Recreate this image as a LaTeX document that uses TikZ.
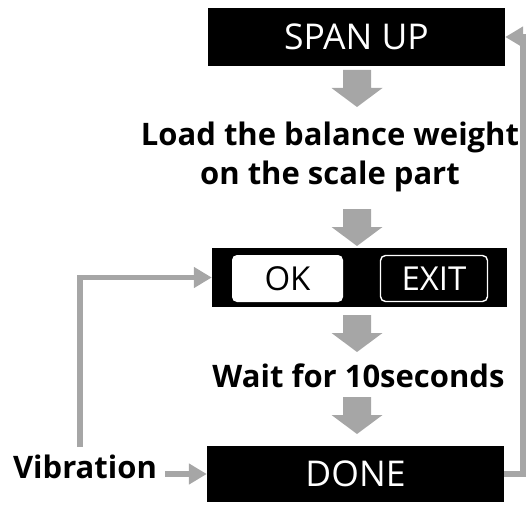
\documentclass[tikz,border=0pt]{standalone}
\usepackage{fontspec}
\setmainfont{Open Sans}
\usetikzlibrary{arrows.meta}
\definecolor{flowgray}{HTML}{A6A6A6}
\tikzset{
  blackbox/.style={fill=black, draw=none, text=white, inner sep=0pt,
    font=\fontsize{35.5}{38}\selectfont},
  okbtn/.style={fill=white, draw=none, rounded corners=5pt, text=black, inner sep=0pt,
    font=\fontsize{33}{36}\selectfont},
  exitbtn/.style={fill=black, draw=white, line width=1.4pt, rounded corners=5pt, text=white,
    inner sep=0pt, font=\fontsize{33}{36}\selectfont},
  steptext/.style={font=\bfseries\fontsize{31}{39}\selectfont, align=center, inner sep=0pt},
  conn/.style={draw=flowgray, line width=5.5pt, -{Triangle[length=18pt,width=20pt]}},
  pics/downarrow/.style={code={
    \fill[flowgray] (-14,0) -- (14,0) -- (14,18) -- (25.5,18) -- (0,37)
      -- (-25.5,18) -- (-14,18) -- cycle;}}
}
\begin{document}
\begin{tikzpicture}[x=1pt, y=-1pt]
  \useasboundingbox (0,0) rectangle (529,505);

  % screens
  \node[blackbox, minimum width=297pt, minimum height=58pt] (span) at (356.5,37) {SPAN UP};
  \node[blackbox, minimum width=295pt, minimum height=59pt] (okbox) at (359.5,277.5) {};
  \node[okbtn, minimum width=111pt, minimum height=47pt] (ok) at (287.5,278.5) {OK};
  \node[exitbtn, minimum width=107pt, minimum height=46pt] (exit) at (434,278.5) {EXIT};
  \node[blackbox, minimum width=297pt, minimum height=56pt] (done) at (355.5,474) {DONE};

  % instructions
  \node[steptext] (load) at (330,157) {Load the balance weight\\on the scale part};
  \node[steptext, anchor=base] (wait) at (358.5,387) {Wait for 10seconds};
  \node[steptext, anchor=base] (vib) at (85,478) {Vibration};

  % step arrows
  \pic at (357,70) {downarrow};
  \pic at (357,209) {downarrow};
  \pic at (357,315) {downarrow};
  \pic at (357,397) {downarrow};

  % connectors
  \coordinate (vibtop) at (80,447);
  \draw[conn] (vibtop) |- (okbox.west);
  \draw[conn, shorten <=8pt] (vib.east |- done.west) -- (done.west);
  \draw[conn] (done.east) -- ++(19,0) |- (span.east);
\end{tikzpicture}
\end{document}
